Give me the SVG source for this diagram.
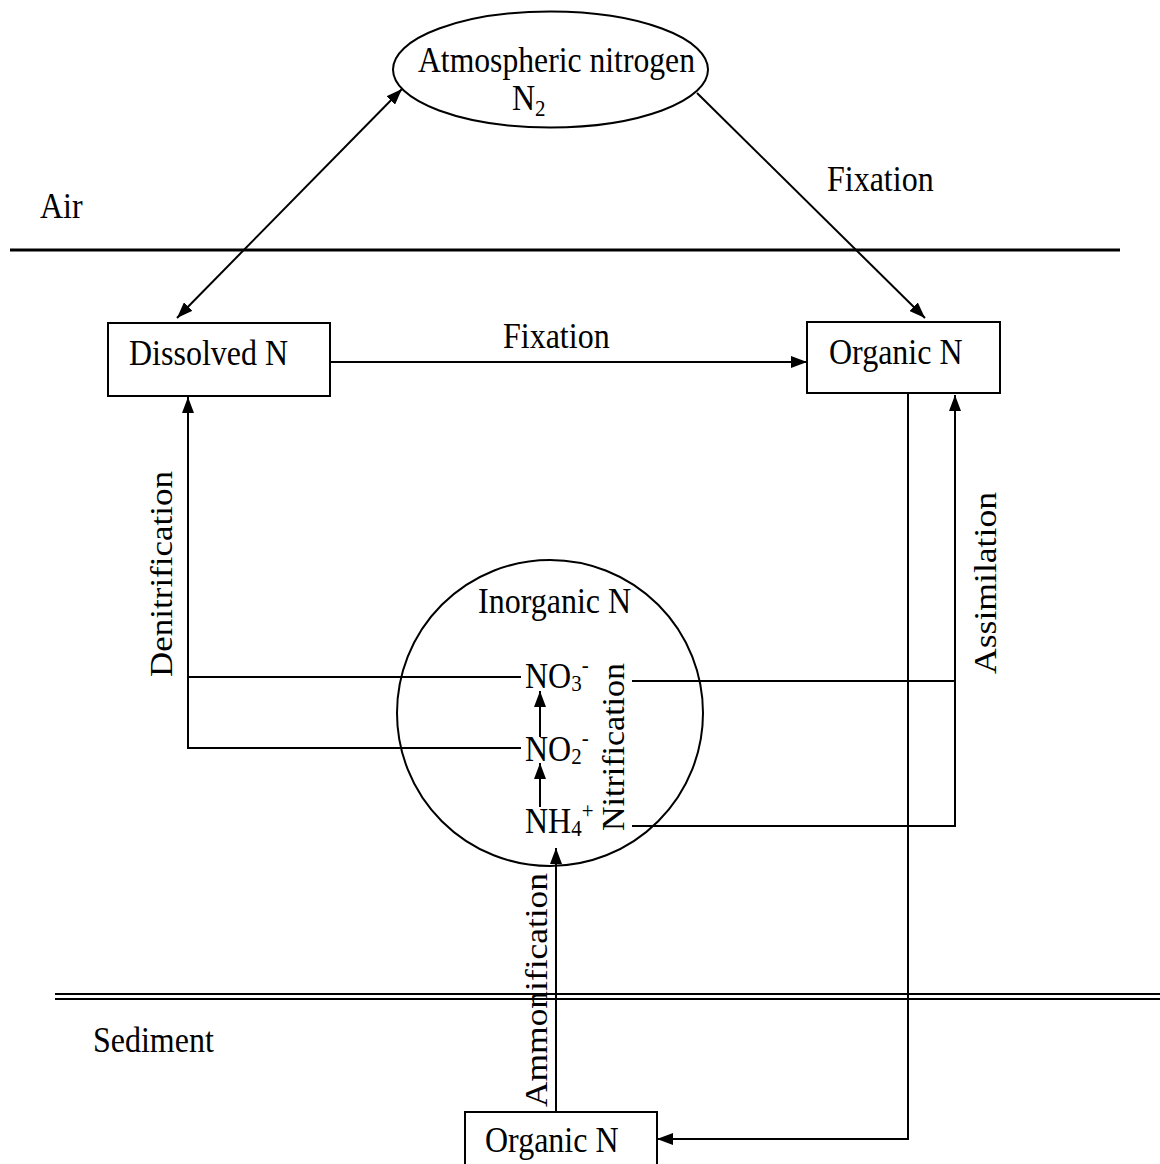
<svg xmlns="http://www.w3.org/2000/svg" width="1160" height="1164" viewBox="0 0 1160 1164">
  <style>
    text { font-family: "Liberation Serif", "Times New Roman", serif; font-size: 32px; fill: #000; }
    .box { fill: #fff; stroke: #000; stroke-width: 2; }
    .wire { fill: none; stroke: #000; stroke-width: 2; }
    .arrow { fill: none; stroke: #000; stroke-width: 2; marker-end: url(#ah); }
    .small { font-size: 21px; }
  </style>
  <defs>
    <marker id="ah" viewBox="0 0 16 12" refX="16" refY="6" markerWidth="16" markerHeight="12" orient="auto-start-reverse" markerUnits="userSpaceOnUse">
      <path d="M0,0 L16,6 L0,12 z" fill="#000"/>
    </marker>
  </defs>

  <rect width="1160" height="1164" fill="#fff"/>

  <!-- zone boundaries -->
  <g id="boundaries">
    <line x1="10" y1="250" x2="1120" y2="250" stroke="#000" stroke-width="3"/>
    <line x1="55" y1="994" x2="1160" y2="994" stroke="#000" stroke-width="2"/>
    <line x1="55" y1="999" x2="1160" y2="999" stroke="#000" stroke-width="2"/>
    <text transform="translate(40,218) scale(1,1.1)">Air</text>
    <text transform="translate(93,1052) scale(1,1.1)">Sediment</text>
  </g>

  <!-- connectors -->
  <g id="connectors">
    <line class="arrow" x1="402" y1="89" x2="177" y2="318" style="marker-start:url(#ah)"/>
    <line class="arrow" x1="697" y1="93" x2="925" y2="318"/>
    <line class="arrow" x1="330" y1="362" x2="807" y2="362"/>
    <polyline class="arrow" points="908,393 908,1139 657,1139"/>
    <!-- assimilation -->
    <line class="wire" x1="632" y1="681" x2="955" y2="681"/>
    <polyline class="arrow" points="632,826 955,826 955,395"/>
    <!-- denitrification -->
    <line class="wire" x1="188" y1="677" x2="521" y2="677"/>
    <polyline class="arrow" points="521,748 188,748 188,397"/>
    <!-- nitrification steps -->
    <line class="arrow" x1="540" y1="737" x2="540" y2="691"/>
    <line class="arrow" x1="540" y1="807" x2="540" y2="763"/>
    <!-- ammonification -->
    <line class="arrow" x1="556" y1="1112" x2="556" y2="848"/>

    <text transform="translate(827,191) scale(1,1.1)">Fixation</text>
    <text transform="translate(503,348) scale(1,1.1)">Fixation</text>
    <text transform="translate(172,677) rotate(-90)" textLength="206" lengthAdjust="spacingAndGlyphs">Denitrification</text>
    <text transform="translate(996,674) rotate(-90)" textLength="182" lengthAdjust="spacingAndGlyphs">Assimilation</text>
    <text transform="translate(624,831) rotate(-90)" textLength="168" lengthAdjust="spacingAndGlyphs">Nitrification</text>
    <text transform="translate(547,1107) rotate(-90)" textLength="234" lengthAdjust="spacingAndGlyphs">Ammonification</text>
  </g>

  <g id="atmospheric-nitrogen">
    <ellipse cx="550.5" cy="69.5" rx="157.5" ry="58" class="box"/>
    <text transform="translate(418,72) scale(1,1.1)" textLength="277" lengthAdjust="spacingAndGlyphs">Atmospheric nitrogen</text>
    <text transform="translate(512,110) scale(1,1.1)">N<tspan class="small" dy="5">2</tspan></text>
  </g>

  <g id="dissolved-n">
    <rect x="108" y="323" width="222" height="73" class="box"/>
    <text transform="translate(129,365) scale(1,1.1)">Dissolved N</text>
  </g>

  <g id="organic-n-water">
    <rect x="807" y="322" width="193" height="71" class="box"/>
    <text transform="translate(829,364) scale(1,1.1)">Organic N</text>
  </g>

  <g id="inorganic-n">
    <circle cx="550" cy="713" r="153" fill="none" stroke="#000" stroke-width="2"/>
    <text transform="translate(478,613) scale(1,1.1)">Inorganic N</text>
    <text transform="translate(525,688) scale(1,1.1)">NO<tspan class="small" dy="3">3</tspan><tspan class="small" dy="-17">-</tspan></text>
    <text transform="translate(525,761) scale(1,1.1)">NO<tspan class="small" dy="3">2</tspan><tspan class="small" dy="-17">-</tspan></text>
    <text transform="translate(525,833) scale(1,1.1)">NH<tspan class="small" dy="3">4</tspan><tspan class="small" dy="-17">+</tspan></text>
  </g>

  <g id="organic-n-sediment">
    <rect x="465" y="1112" width="192" height="60" class="box"/>
    <text transform="translate(485,1152) scale(1,1.1)">Organic N</text>
  </g>
</svg>
